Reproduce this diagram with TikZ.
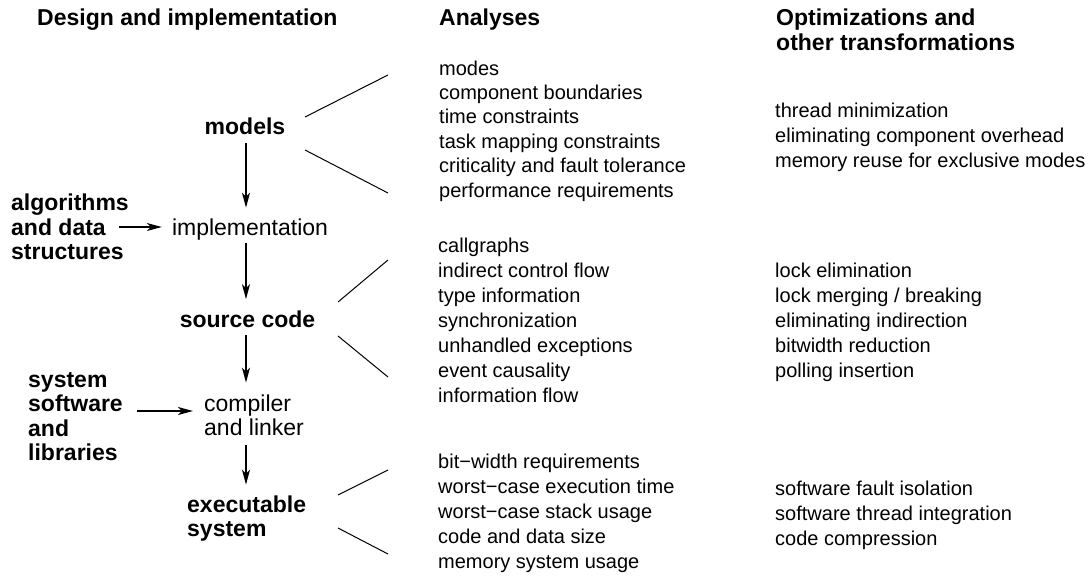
\documentclass[tikz,border=0pt]{standalone}
\usepackage{fontspec}
\setmainfont{Liberation Sans}
\usetikzlibrary{arrows.meta}
\begin{document}
\begin{tikzpicture}[x=1pt,y=-1pt,
  txt/.style={inner sep=0pt, anchor=base west, font=\fontsize{20}{24}\selectfont},
  head/.style={inner sep=0pt, anchor=base west, font=\fontsize{23}{25}\selectfont\bfseries},
  big/.style={inner sep=0pt, font=\fontsize{23}{24.6}\selectfont},
  bigb/.style={inner sep=0pt, font=\fontsize{23}{24.6}\selectfont\bfseries},
  arr/.style={line width=1.5pt, -{Stealth[length=15pt,width=8pt,inset=4pt]}},
  diag/.style={line width=1pt}]
\useasboundingbox (0,0) rectangle (1090,579);

% headings
\node[head] (h1) at (37,25) {Design and implementation};
\node[head] (h2) at (439,25) {Analyses};
\node[head] (h3) at (776,25) {\vtop{\hbox{Optimizations and}\hbox{other transformations}}};

% left column
\node[bigb, anchor=base] (models) at (245,134) {models};
\node[big, anchor=base] (impl) at (250,235) {implementation};
\node[bigb, anchor=base] (src) at (247.5,327) {source code};
\node[big, anchor=base west] (comp) at (204,411) {\vtop{\hbox{compiler}\hbox{and linker}}};
\node[bigb, anchor=base west] (exe) at (187,512) {\vtop{\hbox{executable}\hbox{system}}};
\node[bigb, anchor=base west] (alg) at (11,210.5) {\vtop{\hbox{algorithms}\hbox{and data}\hbox{structures}}};
\node[bigb, anchor=base west] (sys) at (28,387) {\vtop{\hbox{system}\hbox{software}\hbox{and}\hbox{libraries}}};

% arrows
\coordinate (ax) at (246,0);
\draw[arr, shorten <=9pt, shorten >=10.5pt] (ax |- models.south) -- (ax |- impl.north);
\draw[arr, shorten <=3pt, shorten >=11pt] (ax |- impl.south) -- (ax |- src.north);
\draw[arr, shorten <=8pt, shorten >=11.5pt] (ax |- src.south) -- (ax |- comp.north);
\draw[arr, shorten <=9pt, shorten >=10.5pt] (ax |- comp.south) -- (ax |- exe.north);
\coordinate (algout) at (119,227);
\draw[arr, shorten >=10pt] (algout) -- (algout -| impl.west);
\coordinate (sysout) at (137,411);
\draw[arr, shorten >=11pt] (sysout) -- (sysout -| comp.west);

% analyses lists
\foreach \t [count=\i from 0] in {modes, component boundaries, time constraints, task mapping constraints, criticality and fault tolerance, performance requirements}
  \node[txt] (a\i) at (439, 75+24.4*\i) {\t};
\foreach \t [count=\i from 0] in {callgraphs, indirect control flow, type information, synchronization, unhandled exceptions, event causality, information flow}
  \node[txt] (b\i) at (438, 252+25*\i) {\t};
\foreach \t [count=\i from 0] in {bit−width requirements, worst−case execution time, worst−case stack usage, code and data size, memory system usage}
  \node[txt] (c\i) at (438, 468+25*\i) {\t};

% optimization lists
\foreach \t [count=\i from 0] in {thread minimization, eliminating component overhead, memory reuse for exclusive modes}
  \node[txt] (d\i) at (775, 117+25*\i) {\t};
\foreach \t [count=\i from 0] in {lock elimination, lock merging / breaking, eliminating indirection, bitwidth reduction, polling insertion}
  \node[txt] (e\i) at (775, 277+25*\i) {\t};
\foreach \t [count=\i from 0] in {software fault isolation, software thread integration, code compression}
  \node[txt] (f\i) at (775, 495+25*\i) {\t};

% fan lines
\coordinate (m1) at (305,117); \coordinate (m2) at (388,75);
\coordinate (m3) at (305,150); \coordinate (m4) at (388,193);
\coordinate (s1) at (338,302); \coordinate (s2) at (388,260);
\coordinate (s3) at (338,336); \coordinate (s4) at (388,377);
\coordinate (x1) at (338,495); \coordinate (x2) at (388,470);
\coordinate (x3) at (338,528); \coordinate (x4) at (388,554);
\draw[diag] (m1) -- (m2);
\draw[diag] (m3) -- (m4);
\draw[diag] (s1) -- (s2);
\draw[diag] (s3) -- (s4);
\draw[diag] (x1) -- (x2);
\draw[diag] (x3) -- (x4);
\end{tikzpicture}
\end{document}
